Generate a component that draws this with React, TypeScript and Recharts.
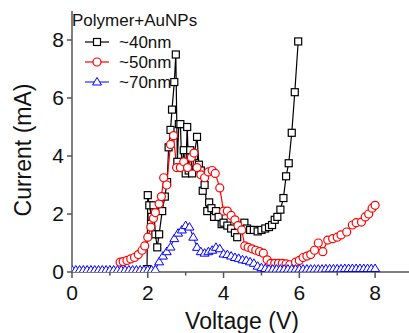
import React from 'react';
import { LineChart, Line, XAxis, YAxis } from 'recharts';

// ~40nm (black squares)
const v40 = [1.98, 2.0, 2.04, 2.1, 2.15, 2.2, 2.25, 2.3, 2.38, 2.45, 2.51, 2.55, 2.6, 2.64, 2.7, 2.74, 2.78, 2.82, 2.86, 2.9, 2.95, 3.0, 3.04, 3.08, 3.12, 3.17, 3.22, 3.3, 3.35, 3.4, 3.45, 3.5, 3.57, 3.62, 3.68, 3.75, 3.8, 3.87, 3.95, 4.0, 4.1, 4.2, 4.3, 4.36, 4.45, 4.55, 4.62, 4.7, 4.8, 4.9, 5.0, 5.1, 5.2, 5.28, 5.35, 5.42, 5.5, 5.58, 5.65, 5.72, 5.8, 5.88, 5.97];
const i40 = [0.1, 2.65, 2.3, 1.9, 2.3, 1.3, 0.85, 1.3, 2.1, 2.6, 3.1, 4.3, 4.9, 5.6, 6.55, 7.5, 3.8, 5.1, 5.1, 3.6, 4.2, 3.4, 5.0, 3.5, 4.2, 3.4, 4.0, 4.66, 3.7, 3.5, 2.8, 3.0, 2.1, 2.4, 2.2, 1.9, 2.1, 1.9, 1.65, 1.7, 1.6, 1.5, 1.35, 1.2, 1.6, 1.7, 1.5, 1.45, 1.45, 1.4, 1.45, 1.5, 1.55, 1.62, 1.8, 1.9, 2.15, 2.55, 3.3, 3.75, 4.8, 6.2, 7.95];

// ~50nm (red circles)
const v50 = [1.27, 1.35, 1.45, 1.55, 1.65, 1.75, 1.85, 1.92, 2.0, 2.08, 2.15, 2.2, 2.3, 2.36, 2.42, 2.5, 2.6, 2.68, 2.76, 2.86, 2.95, 3.05, 3.15, 3.22, 3.3, 3.4, 3.5, 3.6, 3.7, 3.78, 3.9, 4.0, 4.1, 4.2, 4.3, 4.38, 4.48, 4.56, 4.65, 4.75, 4.85, 4.95, 5.05, 5.15, 5.25, 5.35, 5.45, 5.55, 5.65, 5.75, 5.9, 6.0, 6.1, 6.2, 6.3, 6.4, 6.5, 6.62, 6.75, 6.88, 7.0, 7.1, 7.25, 7.4, 7.5, 7.64, 7.74, 7.83, 7.92, 8.0];
const i50 = [0.34, 0.36, 0.4, 0.45, 0.5, 0.6, 0.75, 0.9, 1.2, 1.55, 1.85, 2.05, 2.35, 2.6, 3.25, 3.0, 4.4, 4.7, 3.6, 3.6, 3.8, 3.6, 3.95, 4.1, 3.6, 3.35, 3.25, 3.45, 3.5, 3.4, 2.9, 2.1, 2.1, 1.95, 1.8, 1.6, 1.45, 0.9, 0.85, 0.8, 0.75, 0.7, 0.65, 0.42, 0.3, 0.3, 0.3, 0.3, 0.28, 0.25, 0.34, 0.4, 0.5, 0.55, 0.6, 0.75, 1.0, 0.7, 1.1, 1.15, 1.2, 1.28, 1.38, 1.62, 1.7, 1.72, 1.9, 2.0, 2.2, 2.3];

// ~70nm (blue triangles)
const v70 = [0.0, 0.1, 0.2, 0.3, 0.4, 0.5, 0.6, 0.7, 0.8, 0.9, 1.0, 1.1, 1.2, 1.3, 1.4, 1.5, 1.6, 1.7, 1.8, 1.9, 2.0, 2.1, 2.2, 2.3, 2.4, 2.5, 2.6, 2.7, 2.8, 2.9, 3.0, 3.1, 3.2, 3.3, 3.4, 3.5, 3.6, 3.7, 3.8, 3.9, 4.0, 4.1, 4.2, 4.3, 4.4, 4.5, 4.6, 4.7, 4.8, 4.9, 5.0, 5.1, 5.2, 5.3, 5.4, 5.5, 5.6, 5.7, 5.8, 5.9, 6.0, 6.1, 6.2, 6.3, 6.4, 6.5, 6.6, 6.7, 6.8, 6.9, 7.0, 7.1, 7.2, 7.3, 7.4, 7.5, 7.6, 7.7, 7.8, 7.9, 8.0];
const i70 = [0.07, 0.07, 0.07, 0.07, 0.07, 0.07, 0.07, 0.07, 0.07, 0.07, 0.07, 0.07, 0.07, 0.07, 0.07, 0.07, 0.07, 0.07, 0.07, 0.07, 0.07, 0.07, 0.08, 0.35, 0.55, 0.7, 0.86, 1.15, 1.34, 1.45, 1.6, 1.55, 1.2, 0.85, 0.7, 0.65, 0.7, 0.75, 0.85, 0.8, 0.62, 0.6, 0.55, 0.5, 0.47, 0.42, 0.4, 0.35, 0.3, 0.2, 0.15, 0.12, 0.1, 0.1, 0.1, 0.1, 0.1, 0.1, 0.1, 0.1, 0.1, 0.1, 0.1, 0.1, 0.1, 0.1, 0.1, 0.11, 0.11, 0.11, 0.11, 0.11, 0.12, 0.12, 0.12, 0.12, 0.12, 0.12, 0.12, 0.12, 0.12];

const xTicks = [0, 1, 2, 3, 4, 5, 6, 7, 8];
const yTicks = [0, 2, 4, 6, 8];

const toRows = (v: number[], c: number[]) => v.map((x, k) => ({ v: x, i: c[k] }));
const d40 = toRows(v40, i40);
const d50 = toRows(v50, i50);
const d70 = toRows(v70, i70);

const FONT = '"Liberation Sans", Arial, sans-serif';
const AXIS = '#555';

const Square = (p: any) => (
  <rect key={`sq-${p.index}`} x={p.cx - 3.5} y={p.cy - 3.5} width={7} height={7} fill="#fff" stroke="#000" strokeWidth={1.2} />
);
const Circle = (p: any) => (
  <circle key={`ci-${p.index}`} cx={p.cx} cy={p.cy} r={4} fill="#fff" stroke="#ff0000" strokeWidth={1.2} />
);
const Tri = (p: any) => (
  <path key={`tr-${p.index}`} d={`M${p.cx},${p.cy - 4.5}L${p.cx + 4.5},${p.cy + 3}L${p.cx - 4.5},${p.cy + 3}Z`} fill="#fff" stroke="#0000ff" strokeWidth={1} />
);

const XTick = ({ x, y, payload }: any) => {
  const major = payload.value % 2 === 0;
  return (
    <g>
      <line x1={x} x2={x} y1={y} y2={y + (major ? 6 : 3.5)} stroke={AXIS} strokeWidth={1.5} />
      {major && (
        <text x={x} y={y + 13} dy="0.71em" textAnchor="middle" fontSize={21} fill="#111" fontFamily={FONT}>
          {payload.value}
        </text>
      )}
    </g>
  );
};

export default function App() {
  return (
    <div style={{ position: 'absolute', left: 0, top: 0, width: 409, height: 333, overflow: 'hidden', background: '#fff' }}>
      <LineChart width={413} height={333} margin={{ top: 11, right: 0, bottom: 0, left: 0 }}>
        <XAxis
          type="number"
          dataKey="v"
          domain={[0, 9]}
          ticks={xTicks}
          allowDataOverflow
          height={61}
          tickSize={0}
          tickMargin={0}
          tickLine={false}
          tick={<XTick />}
          axisLine={{ stroke: AXIS, strokeWidth: 1.5 }}
        />
        <XAxis
          xAxisId="top"
          orientation="top"
          type="number"
          dataKey="v"
          domain={[0, 9]}
          height={0}
          tick={false}
          tickLine={false}
          axisLine={{ stroke: AXIS, strokeWidth: 1.5 }}
        />
        <YAxis
          type="number"
          domain={[0, 9]}
          ticks={yTicks}
          allowDataOverflow
          width={72}
          tickSize={5}
          tickMargin={3}
          tickLine={{ stroke: AXIS, strokeWidth: 1.5 }}
          axisLine={{ stroke: AXIS, strokeWidth: 1.5 }}
          tick={{ fontSize: 21, fill: '#111', fontFamily: FONT }}
        />
        <Line data={d40} dataKey="i" type="linear" stroke="#000" strokeWidth={1.2} dot={Square} activeDot={false} isAnimationActive={false} />
        <Line data={d50} dataKey="i" type="linear" stroke="#ff0000" strokeWidth={1.2} dot={Circle} activeDot={false} isAnimationActive={false} />
        <Line data={d70} dataKey="i" type="linear" stroke="#0000ff" strokeWidth={1} dot={Tri} activeDot={false} isAnimationActive={false} />
      </LineChart>
      <svg width={409} height={333} style={{ position: 'absolute', left: 0, top: 0, pointerEvents: 'none' }}>
        <text x={242} y={329} textAnchor="middle" fontSize={23} fill="#111" fontFamily={FONT}>Voltage (V)</text>
        <text transform="translate(31,150) rotate(-90)" textAnchor="middle" fontSize={23} fill="#111" fontFamily={FONT}>Current (mA)</text>
        <text x={72} y={26} fontSize={17} fill="#111" fontFamily={FONT}>Polymer+AuNPs</text>
        <line x1={85} x2={109} y1={42} y2={42} stroke="#000" strokeWidth={1.2} />
        <rect x={93.5} y={38.5} width={7} height={7} fill="#fff" stroke="#000" strokeWidth={1.2} />
        <text x={119} y={48} fontSize={17} fill="#111" fontFamily={FONT}>~40nm</text>
        <line x1={85} x2={109} y1={62} y2={62} stroke="#ff0000" strokeWidth={1.2} />
        <circle cx={97} cy={62} r={4} fill="#fff" stroke="#ff0000" strokeWidth={1.2} />
        <text x={119} y={68} fontSize={17} fill="#111" fontFamily={FONT}>~50nm</text>
        <line x1={85} x2={109} y1={82} y2={82} stroke="#0000ff" strokeWidth={1} />
        <path d="M97,77.5L101.5,85L92.5,85Z" fill="#fff" stroke="#0000ff" strokeWidth={1} />
        <text x={119} y={88} fontSize={17} fill="#111" fontFamily={FONT}>~70nm</text>
      </svg>
    </div>
  );
}
